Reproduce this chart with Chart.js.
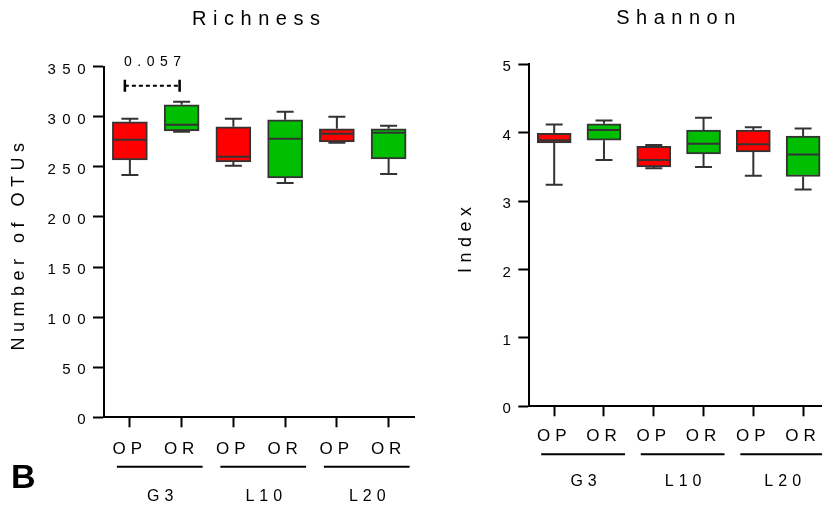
<!DOCTYPE html>
<html>
<head>
<meta charset="utf-8">
<script src="https://cdn.jsdelivr.net/npm/chart.js@4.4.1/dist/chart.umd.min.js"></script>
<style>
    html, body { margin: 0; padding: 0; background: #fff; overflow: hidden; }
    #wrap { position: relative; width: 822px; height: 509px; overflow: hidden; }
    canvas { position: absolute; top: 0; }
    #richness { left: 0; }
    #shannon { left: 440px; }
</style>
</head>
<body>
<div id="wrap">
    <canvas id="richness" width="430" height="509"></canvas>
    <canvas id="shannon" width="400" height="509"></canvas>
</div>
<script>
// GROUPS AND TREATMENTS
const groups = ["G3", "L10", "L20"];
const treatments = ["OP", "OR"];

// RICHNESS (number of OTUs) - min, q1, median, q3, max
const richMin = [242, 285, 251, 234, 274, 243];
const richQ1 = [257, 286, 255, 239, 275, 258];
const richMed = [277, 292, 260, 278, 283, 284];
const richQ3 = [295, 312, 290, 297, 288, 288];
const richMax = [298, 315, 298, 305, 300, 291];

// SHANNON INDEX - min, q1, median, q3, max
const shanMin = [3.24, 3.6, 3.48, 3.5, 3.37, 3.17];
const shanQ1 = [3.85, 3.89, 3.5, 3.69, 3.72, 3.36];
const shanMed = [3.89, 4.04, 3.6, 3.84, 3.83, 3.68];
const shanQ3 = [3.99, 4.13, 3.8, 4.04, 4.04, 3.95];
const shanMax = [4.12, 4.18, 3.82, 4.22, 4.08, 4.06];

// P VALUE BETWEEN G3 OP AND G3 OR
const sigPair = [0, 1];
const sigLevel = 331;
const sigLabel = "0.057";

const FONT = '"Liberation Sans", Arial, Helvetica, sans-serif';
const RED = "#ff0000";
const GREEN = "#00bf00";
const EDGE = "#333333";
const INK = "#000000";

// one label per box, OP / OR repeated for each group
const labels = [];
groups.forEach(function () {
    treatments.forEach(function (t) {
        labels.push(t);
    });
});
const boxColors = labels.map(function (t) {
    return t == "OP" ? RED : GREEN;
});

// DRAW TEXT WITH WIDE LETTER SPACING
function spacedText(ctx, text, x, y, size, spacing, align, extra) {
    extra = extra || {};
    ctx.save();
    ctx.font = (extra.bold ? "bold " : "") + size + "px " + FONT;
    ctx.letterSpacing = spacing + "px";
    ctx.textAlign = align;
    ctx.textBaseline = "middle";
    ctx.fillStyle = INK;
    if (extra.rotate) {
        ctx.translate(x, y);
        ctx.rotate(extra.rotate);
        x = 0;
        y = 0;
    }
    ctx.fillText(text, x, y);
    ctx.restore();
}

// BOX PLOT PARTS: WHISKERS, MEDIANS AND ALL THE TEXT
function boxPlotPlugin(p) {
    return {
        id: "boxPlotParts",
        afterDatasetsDraw: function (chart) {
            const ctx = chart.ctx;
            const x = chart.scales.x;
            const y = chart.scales.y;
            const area = chart.chartArea;
            const meta = chart.getDatasetMeta(0);

            ctx.save();
            ctx.strokeStyle = EDGE;
            ctx.lineWidth = 2;
            meta.data.forEach(function (bar, i) {
                const cx = bar.x;
                const half = bar.width / 2;
                const cap = 8.5;
                const yMin = y.getPixelForValue(p.low[i]);
                const yMax = y.getPixelForValue(p.high[i]);
                const yQ1 = y.getPixelForValue(p.q1[i]);
                const yQ3 = y.getPixelForValue(p.q3[i]);
                const yMed = y.getPixelForValue(p.med[i]);
                ctx.beginPath();
                // upper whisker
                ctx.moveTo(cx, yQ3);
                ctx.lineTo(cx, yMax);
                ctx.moveTo(cx - cap, yMax);
                ctx.lineTo(cx + cap, yMax);
                // lower whisker
                ctx.moveTo(cx, yQ1);
                ctx.lineTo(cx, yMin);
                ctx.moveTo(cx - cap, yMin);
                ctx.lineTo(cx + cap, yMin);
                // median
                ctx.moveTo(cx - half + 1, yMed);
                ctx.lineTo(cx + half - 1, yMed);
                ctx.stroke();
            });
            ctx.restore();

            // title and y axis title
            const midX = (area.left + area.right) / 2;
            spacedText(ctx, p.title, p.titleX || midX, p.titleY, 20, 6.5, "center");
            spacedText(ctx, p.yTitle, p.yTitleX, (area.top + area.bottom) / 2 + 2, 18, 5.5, "center", { rotate: -Math.PI / 2 });

            // y tick labels
            y.ticks.forEach(function (t) {
                const py = y.getPixelForValue(t.value);
                spacedText(ctx, String(t.value), area.left - 12, py + 3, 15, 6.5, "right");
            });

            // box labels, group lines and group names
            labels.forEach(function (t, i) {
                spacedText(ctx, t, x.getPixelForValue(i), area.bottom + p.labelGap, 17, 5, "center");
            });
            ctx.save();
            ctx.strokeStyle = INK;
            ctx.lineWidth = 2;
            groups.forEach(function (g, gi) {
                const a = x.getPixelForValue(gi * 2) - 13;
                const b = x.getPixelForValue(gi * 2 + 1) + 21;
                const ly = area.bottom + p.lineGap;
                ctx.beginPath();
                ctx.moveTo(a, ly);
                ctx.lineTo(b, ly);
                ctx.stroke();
                spacedText(ctx, g, (a + b) / 2 + 3, area.bottom + p.groupGap, 16, 5, "center");
            });
            ctx.restore();

            // significance bracket
            if (p.sig) {
                const x0 = x.getPixelForValue(p.sig.pair[0]) - 5;
                const x1 = x.getPixelForValue(p.sig.pair[1]) - 2;
                const sy = y.getPixelForValue(p.sig.level);
                ctx.save();
                ctx.strokeStyle = "#000";
                ctx.lineWidth = 2;
                ctx.setLineDash([4, 3]);
                ctx.beginPath();
                ctx.moveTo(x0, sy);
                ctx.lineTo(x1, sy);
                ctx.stroke();
                ctx.setLineDash([]);
                ctx.lineWidth = 2.5;
                ctx.beginPath();
                ctx.moveTo(x0, sy - 6);
                ctx.lineTo(x0, sy + 6);
                ctx.moveTo(x1, sy - 6);
                ctx.lineTo(x1, sy + 6);
                ctx.stroke();
                ctx.restore();
                spacedText(ctx, p.sig.label, (x0 + x1) / 2 + 3, sy - 24, 14, 5.5, "center");
            }

            // panel letter
            if (p.letter) {
                spacedText(ctx, p.letter, 11, 479, 34, 0, "left", { bold: true });
            }
        },
    };
}

// BUILD ONE BOX PLOT PANEL
function boxPanel(id, p) {
    const ctx = document.getElementById(id).getContext("2d");
    return new Chart(ctx, {
        type: "bar",
        data: {
            labels: labels,
            datasets: [
                {
                    data: p.q1.map(function (v, i) {
                        return [v, p.q3[i]];
                    }),
                    backgroundColor: boxColors,
                    borderColor: EDGE,
                    borderWidth: 2,
                    borderSkipped: false,
                    barThickness: p.barWidth,
                },
            ],
        },
        options: {
            responsive: false,
            animation: false,
            devicePixelRatio: 1,
            layout: { padding: p.padding },
            plugins: {
                legend: { display: false },
                tooltip: { enabled: false },
                title: { display: false },
            },
            scales: {
                x: {
                    offset: true,
                    grid: {
                        offset: false,
                        drawOnChartArea: false,
                        tickLength: 10,
                        tickWidth: 2,
                        tickColor: "#000",
                    },
                    border: { color: "#000", width: 2 },
                    ticks: { display: false },
                    afterFit: function (scale) {
                        scale.height = 10;
                    },
                },
                y: {
                    min: 0,
                    max: p.axisMax,
                    ticks: { display: false, stepSize: p.step },
                    grid: {
                        drawOnChartArea: false,
                        tickLength: 11,
                        tickWidth: 2,
                        tickColor: "#000",
                    },
                    border: { color: "#000", width: 2 },
                    afterFit: function (scale) {
                        scale.width = 11;
                    },
                },
            },
        },
        plugins: [boxPlotPlugin(p)],
    });
}

// RICHNESS
boxPanel("richness", {
    title: "Richness",
    titleY: 19,
    yTitle: "Number of OTUs",
    yTitleX: 19,
    axisMax: 350,
    step: 50,
    low: richMin,
    q1: richQ1,
    med: richMed,
    q3: richQ3,
    high: richMax,
    barWidth: 35,
    padding: { left: 93, right: 15.5, top: 66.7, bottom: 81.7 },
    labelGap: 32.5,
    lineGap: 49.5,
    groupGap: 79,
    sig: { pair: sigPair, level: sigLevel, label: sigLabel },
    letter: "B",
});

// SHANNON
boxPanel("shannon", {
    title: "Shannon",
    titleY: 18.5,
    titleX: 239,
    yTitle: "Index",
    yTitleX: 26,
    axisMax: 5,
    step: 1,
    low: shanMin,
    q1: shanQ1,
    med: shanMed,
    q3: shanQ3,
    high: shanMax,
    barWidth: 34,
    padding: { left: 78.3, right: 12, top: 64.3, bottom: 92.7 },
    labelGap: 30.5,
    lineGap: 48,
    groupGap: 75.5,
});
</script>
</body>
</html>
